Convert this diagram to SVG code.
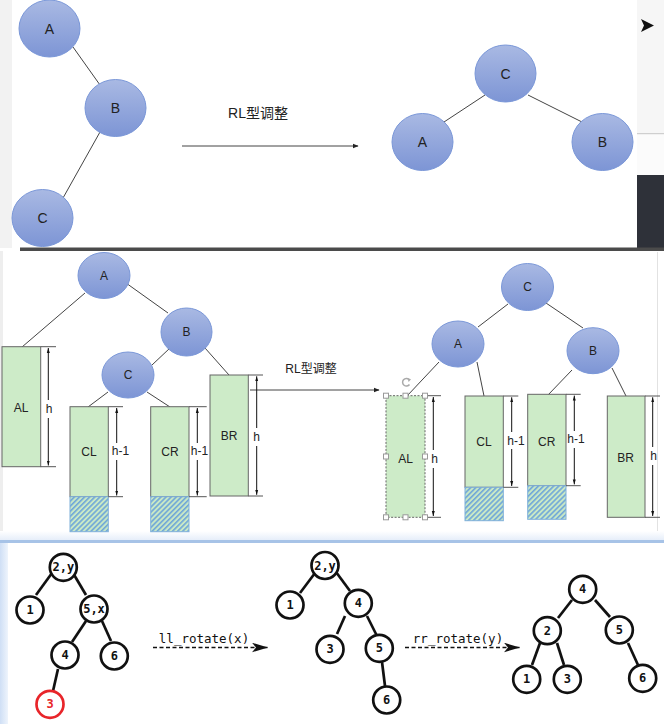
<svg xmlns="http://www.w3.org/2000/svg" width="664" height="724" viewBox="0 0 664 724">
<defs>
<linearGradient id="blue" x1="0" y1="0" x2="0" y2="1">
<stop offset="0" stop-color="#a9b9e3"/>
<stop offset="1" stop-color="#7d95d5"/>
</linearGradient>
<linearGradient id="leftblue" x1="0" y1="0" x2="1" y2="0">
<stop offset="0" stop-color="#cfdff5"/>
<stop offset="1" stop-color="#eef4fc"/>
</linearGradient>
<linearGradient id="shadow" x1="0" y1="0" x2="0" y2="1">
<stop offset="0" stop-color="#ffffff"/>
<stop offset="1" stop-color="#e6eefa"/>
</linearGradient>
<pattern id="hatch" width="3.6" height="3.6" patternUnits="userSpaceOnUse" patternTransform="rotate(45)">
<rect width="3.6" height="3.6" fill="#c9e9c6"/>
<rect width="1.6" height="3.6" fill="#6fa6d8"/>
</pattern>
<marker id="ah" viewBox="0 0 10 10" refX="9" refY="5" markerWidth="6" markerHeight="6" orient="auto-start-reverse">
<path d="M0,1 L10,5 L0,9 z" fill="#222"/>
</marker>
<marker id="dim" viewBox="0 0 10 10" refX="10" refY="5" markerWidth="5" markerHeight="5" orient="auto-start-reverse">
<path d="M0,2 L10,5 L0,8 z" fill="#111"/>
</marker>
<marker id="bigah" viewBox="0 0 20 12" refX="20" refY="6" markerWidth="16" markerHeight="10" markerUnits="userSpaceOnUse" orient="auto">
<path d="M0,0 L20,6 L0,12 L5,6 z" fill="#111"/>
</marker>
<style>
.bn{fill:url(#blue);stroke:#7a97d8;stroke-width:1}
.bt{font-family:"Liberation Sans","Noto Sans CJK SC",sans-serif;fill:#222;text-anchor:middle;dominant-baseline:central}
.t1{font-size:14px}
.t2{font-size:12px}
.edge{stroke:#444;stroke-width:1;fill:none}
.box{fill:#cdebc8;stroke:#666;stroke-width:1}
.hatchbox{fill:url(#hatch);stroke:#7fb0da;stroke-width:1}
.dimline{stroke:#111;stroke-width:1;fill:none}
.tick{stroke:#555;stroke-width:1}
.wn{fill:#fff;stroke:#111;stroke-width:2.7}
.rn{fill:#fff;stroke:#e8252a;stroke-width:2.7}
.we{stroke:#111;stroke-width:2.7;fill:none}
.mt{font-family:"DejaVu Sans Mono","Liberation Mono",monospace;font-weight:bold;font-size:12px;fill:#111;text-anchor:middle;dominant-baseline:central}
.lab{font-family:"DejaVu Sans Mono","Liberation Mono",monospace;font-size:12.5px;fill:#111;text-anchor:middle}
.dash{stroke:#111;stroke-width:1.5;stroke-dasharray:4,2.5;fill:none}
.hdl{fill:#fff;stroke:#999;stroke-width:1}
</style>
</defs>

<!-- backgrounds -->
<rect x="0" y="0" width="664" height="724" fill="#ffffff"/>
<rect x="0" y="0" width="12" height="248" fill="#f2f2f2"/>
<rect x="637" y="0" width="27" height="133" fill="#f6f6f6"/>
<rect x="637" y="133" width="27" height="1.5" fill="#cfcfcf"/>
<rect x="637" y="134.5" width="27" height="41" fill="#fbfbfb"/>
<rect x="637" y="175" width="27" height="76" fill="#2e3139"/>
<polygon points="641,19 654,25.5 641,32 644,25.5" fill="#111"/>
<rect x="20" y="247.5" width="644" height="3.5" fill="#4b4b4b"/>
<rect x="0" y="251" width="3" height="283" fill="#eeeeee"/>
<rect x="657" y="252" width="1" height="282" fill="#e2e2e2"/>
<rect x="0" y="531" width="664" height="9" fill="url(#shadow)"/>
<rect x="0" y="540" width="664" height="3" fill="#a7c3e7"/>
<rect x="0" y="543" width="8" height="181" fill="url(#leftblue)"/>

<!-- connectors -->
<g id="connectors">
<line class="edge" x1="73" y1="47" x2="100" y2="85"/>
<line class="edge" x1="100" y1="132" x2="63" y2="198"/>
<line class="edge" x1="182" y1="146" x2="358" y2="146" marker-end="url(#ah)"/>
<line class="edge" x1="485" y1="95" x2="444" y2="122"/>
<line class="edge" x1="528" y1="95" x2="582" y2="122"/>

<line class="edge" x1="85" y1="293" x2="22" y2="347"/>
<line class="edge" x1="126" y1="283" x2="168" y2="313"/>
<line class="edge" x1="170" y1="348" x2="152" y2="365"/>
<line class="edge" x1="205" y1="348" x2="229" y2="375"/>
<line class="edge" x1="108" y1="392" x2="88" y2="407"/>
<line class="edge" x1="147" y1="392" x2="170" y2="407"/>
<line class="edge" x1="250" y1="390" x2="379" y2="390" marker-end="url(#ah)"/>

<line class="edge" x1="508" y1="304" x2="478" y2="327"/>
<line class="edge" x1="546" y1="303" x2="583" y2="328"/>
<line class="edge" x1="439" y1="362" x2="407" y2="396"/>
<line class="edge" x1="477" y1="362" x2="484" y2="396"/>
<line class="edge" x1="572" y1="370" x2="548" y2="395"/>
<line class="edge" x1="612" y1="368" x2="626" y2="396"/>

<line class="we" x1="52" y1="573" x2="36" y2="595"/>
<line class="we" x1="73" y1="573" x2="86" y2="595"/>
<line class="we" x1="86" y1="621" x2="72" y2="642"/>
<line class="we" x1="102" y1="621" x2="111" y2="641"/>
<line class="we" x1="58" y1="669" x2="53" y2="691"/>
<line class="dash" x1="153" y1="647.5" x2="268" y2="647.5" marker-end="url(#bigah)"/>

<line class="we" x1="315" y1="573" x2="300" y2="593"/>
<line class="we" x1="336" y1="572" x2="350" y2="591"/>
<line class="we" x1="345" y1="616" x2="337" y2="634"/>
<line class="we" x1="367" y1="616" x2="377" y2="636"/>
<line class="we" x1="382" y1="662" x2="385" y2="686"/>
<line class="dash" x1="405" y1="647.5" x2="520" y2="647.5" marker-end="url(#bigah)"/>

<line class="we" x1="572" y1="600" x2="558" y2="618"/>
<line class="we" x1="595" y1="600" x2="610" y2="617"/>
<line class="we" x1="540" y1="643" x2="532" y2="665"/>
<line class="we" x1="557" y1="643" x2="564" y2="665"/>
<line class="we" x1="628" y1="643" x2="638" y2="665"/>
</g>

<!-- labels on arrows -->
<text class="bt t1" x="258" y="113">RL型调整</text>
<text class="bt t2" x="311" y="369">RL型调整</text>
<text class="lab" x="204" y="643">ll_rotate(x)</text>
<text class="lab" x="458" y="643">rr_rotate(y)</text>

<!-- top panel nodes -->
<g id="t-A"><ellipse class="bn" cx="49.5" cy="28.5" rx="30.5" ry="28.5"/><text class="bt t1" x="49.5" y="28.5">A</text></g>
<g id="t-B"><ellipse class="bn" cx="115.5" cy="108" rx="30.5" ry="28.5"/><text class="bt t1" x="115.5" y="108">B</text></g>
<g id="t-C"><ellipse class="bn" cx="42.5" cy="218" rx="30.5" ry="28.5"/><text class="bt t1" x="42.5" y="218">C</text></g>
<g id="t-C2"><ellipse class="bn" cx="505.5" cy="73.5" rx="30.5" ry="28.5"/><text class="bt t1" x="505.5" y="73.5">C</text></g>
<g id="t-A2"><ellipse class="bn" cx="422.5" cy="142" rx="30.5" ry="28.5"/><text class="bt t1" x="422.5" y="142">A</text></g>
<g id="t-B2"><ellipse class="bn" cx="602.5" cy="142" rx="30.5" ry="28.5"/><text class="bt t1" x="602.5" y="142">B</text></g>

<!-- middle panel left -->
<g id="m-A"><ellipse class="bn" cx="104" cy="275.5" rx="26" ry="23"/><text class="bt t2" x="104" y="275.5">A</text></g>
<g id="m-B"><ellipse class="bn" cx="186.5" cy="332" rx="25.5" ry="24"/><text class="bt t2" x="186.5" y="332">B</text></g>
<g id="m-C"><ellipse class="bn" cx="128" cy="375" rx="26" ry="23"/><text class="bt t2" x="128" y="375">C</text></g>

<g id="m-AL">
<rect class="box" x="2" y="346.7" width="38.7" height="120"/>
<text class="bt t2" x="21" y="408">AL</text>
<line class="tick" x1="40.7" y1="346.7" x2="56" y2="346.7"/><line class="tick" x1="40.7" y1="466.7" x2="56" y2="466.7"/>
<line class="dimline" x1="48.3" y1="348" x2="48.3" y2="400" marker-start="url(#dim)"/>
<line class="dimline" x1="48.3" y1="418" x2="48.3" y2="465.5" marker-end="url(#dim)"/>
<text class="bt t2" x="49" y="409">h</text>
</g>
<g id="m-CL">
<rect class="box" x="70" y="406.7" width="38.3" height="90"/>
<rect class="hatchbox" x="70" y="496.7" width="38.3" height="35"/>
<text class="bt t2" x="89" y="452">CL</text>
<line class="tick" x1="108.3" y1="406.7" x2="123" y2="406.7"/><line class="tick" x1="108.3" y1="496.7" x2="123" y2="496.7"/>
<line class="dimline" x1="116.7" y1="408" x2="116.7" y2="443" marker-start="url(#dim)"/>
<line class="dimline" x1="116.7" y1="460" x2="116.7" y2="495.5" marker-end="url(#dim)"/>
<text class="bt t2" x="120.5" y="451">h-1</text>
</g>
<g id="m-CR">
<rect class="box" x="150.7" y="406.7" width="38.3" height="90"/>
<rect class="hatchbox" x="150.7" y="496.7" width="38.3" height="35"/>
<text class="bt t2" x="170" y="452">CR</text>
<line class="tick" x1="189" y1="406.7" x2="206.7" y2="406.7"/><line class="tick" x1="189" y1="496.7" x2="206.7" y2="496.7"/>
<line class="dimline" x1="197.3" y1="408" x2="197.3" y2="443" marker-start="url(#dim)"/>
<line class="dimline" x1="197.3" y1="460" x2="197.3" y2="495.5" marker-end="url(#dim)"/>
<text class="bt t2" x="199.5" y="451">h-1</text>
</g>
<g id="m-BR">
<rect class="box" x="210" y="375" width="38.3" height="121"/>
<text class="bt t2" x="229" y="436">BR</text>
<line class="tick" x1="248.3" y1="375" x2="263" y2="375"/><line class="tick" x1="248.3" y1="496" x2="263" y2="496"/>
<line class="dimline" x1="256.7" y1="376.3" x2="256.7" y2="428" marker-start="url(#dim)"/>
<line class="dimline" x1="256.7" y1="446" x2="256.7" y2="494.8" marker-end="url(#dim)"/>
<text class="bt t2" x="256.7" y="437">h</text>
</g>

<!-- middle panel right -->
<g id="m-C2"><ellipse class="bn" cx="527.5" cy="287" rx="26" ry="23.5"/><text class="bt t2" x="527.5" y="287">C</text></g>
<g id="m-A2"><ellipse class="bn" cx="458" cy="344" rx="26" ry="23"/><text class="bt t2" x="458" y="344">A</text></g>
<g id="m-B2"><ellipse class="bn" cx="593" cy="350.7" rx="26" ry="23"/><text class="bt t2" x="593" y="350.7">B</text></g>

<g id="m-AL2">
<rect class="box" x="386" y="395.7" width="39" height="121.6" stroke-dasharray="2,1.5" stroke="#888"/>
<text class="bt t2" x="405.7" y="459">AL</text>
<line class="tick" x1="425" y1="395.7" x2="441" y2="395.7"/><line class="tick" x1="425" y1="517.3" x2="441" y2="517.3"/>
<line class="dimline" x1="433.3" y1="397" x2="433.3" y2="450" marker-start="url(#dim)"/>
<line class="dimline" x1="433.3" y1="468" x2="433.3" y2="516" marker-end="url(#dim)"/>
<text class="bt t2" x="434.5" y="459">h</text>
<rect class="hdl" x="383.5" y="393.2" width="5" height="5"/>
<rect class="hdl" x="403" y="393.2" width="5" height="5"/>
<rect class="hdl" x="422.5" y="393.2" width="5" height="5"/>
<rect class="hdl" x="383.5" y="454" width="5" height="5"/>
<rect class="hdl" x="422.5" y="454" width="5" height="5"/>
<rect class="hdl" x="383.5" y="514.8" width="5" height="5"/>
<rect class="hdl" x="403" y="514.8" width="5" height="5"/>
<rect class="hdl" x="422.5" y="514.8" width="5" height="5"/>
<path d="M409,379.5 A3.8,3.8 0 1 0 409.5,384.5" fill="none" stroke="#aaa" stroke-width="1.5"/>
<path d="M407.5,378 L411,379.3 L408.6,382 z" fill="#aaa"/>
</g>
<g id="m-CL2">
<rect class="box" x="465" y="396" width="38.3" height="91.3"/>
<rect class="hatchbox" x="465" y="487.3" width="38.3" height="33.4"/>
<text class="bt t2" x="484" y="442">CL</text>
<line class="tick" x1="503.3" y1="396" x2="518.3" y2="396"/><line class="tick" x1="503.3" y1="487.3" x2="518.3" y2="487.3"/>
<line class="dimline" x1="511.7" y1="397.3" x2="511.7" y2="432" marker-start="url(#dim)"/>
<line class="dimline" x1="511.7" y1="449" x2="511.7" y2="486" marker-end="url(#dim)"/>
<text class="bt t2" x="516" y="440.5">h-1</text>
</g>
<g id="m-CR2">
<rect class="box" x="527.7" y="394.3" width="38.3" height="91.4"/>
<rect class="hatchbox" x="527.7" y="485.7" width="38.3" height="33.6"/>
<text class="bt t2" x="546.7" y="441.7">CR</text>
<line class="tick" x1="566" y1="394.3" x2="580.7" y2="394.3"/><line class="tick" x1="566" y1="485.7" x2="580.7" y2="485.7"/>
<line class="dimline" x1="574.3" y1="395.6" x2="574.3" y2="431" marker-start="url(#dim)"/>
<line class="dimline" x1="574.3" y1="448" x2="574.3" y2="484.4" marker-end="url(#dim)"/>
<text class="bt t2" x="576" y="439">h-1</text>
</g>
<g id="m-BR2">
<rect class="box" x="607.3" y="396" width="37.7" height="121.3"/>
<text class="bt t2" x="625.7" y="458">BR</text>
<line class="tick" x1="645" y1="396" x2="660" y2="396"/><line class="tick" x1="645" y1="517.3" x2="660" y2="517.3"/>
<line class="dimline" x1="652.7" y1="397.3" x2="652.7" y2="447" marker-start="url(#dim)"/>
<line class="dimline" x1="652.7" y1="465" x2="652.7" y2="516" marker-end="url(#dim)"/>
<text class="bt t2" x="653.5" y="456">h</text>
</g>

<!-- bottom panel trees -->
<g id="b1-2y"><circle class="wn" cx="63.3" cy="567.3" r="13.5"/><text class="mt" x="63.3" y="567.3">2,y</text></g>
<g id="b1-1"><circle class="wn" cx="30" cy="610" r="13.5"/><text class="mt" x="30" y="610">1</text></g>
<g id="b1-5x"><circle class="wn" cx="94" cy="609" r="13.5"/><text class="mt" x="94" y="609">5,x</text></g>
<g id="b1-4"><circle class="wn" cx="65" cy="655" r="13.5"/><text class="mt" x="65" y="655">4</text></g>
<g id="b1-6"><circle class="wn" cx="114.3" cy="656" r="13.5"/><text class="mt" x="114.3" y="656">6</text></g>
<g id="b1-3"><circle class="rn" cx="50" cy="704.3" r="13.5"/><text class="mt" x="50" y="704.3" style="fill:#e8252a">3</text></g>

<g id="b2-2y"><circle class="wn" cx="325" cy="565.5" r="13.5"/><text class="mt" x="325" y="565.5">2,y</text></g>
<g id="b2-1"><circle class="wn" cx="290" cy="605" r="13.5"/><text class="mt" x="290" y="605">1</text></g>
<g id="b2-4"><circle class="wn" cx="358.3" cy="603.3" r="13.5"/><text class="mt" x="358.3" y="603.3">4</text></g>
<g id="b2-3"><circle class="wn" cx="330" cy="649.3" r="13.5"/><text class="mt" x="330" y="649.3">3</text></g>
<g id="b2-5"><circle class="wn" cx="379.3" cy="648.3" r="13.5"/><text class="mt" x="379.3" y="648.3">5</text></g>
<g id="b2-6"><circle class="wn" cx="386.7" cy="700" r="13.5"/><text class="mt" x="386.7" y="700">6</text></g>

<g id="b3-4"><circle class="wn" cx="582.7" cy="589.3" r="13.5"/><text class="mt" x="582.7" y="589.3">4</text></g>
<g id="b3-2"><circle class="wn" cx="547.3" cy="630.7" r="13.5"/><text class="mt" x="547.3" y="630.7">2</text></g>
<g id="b3-5"><circle class="wn" cx="619.3" cy="630" r="13.5"/><text class="mt" x="619.3" y="630">5</text></g>
<g id="b3-1"><circle class="wn" cx="526.7" cy="679.3" r="13.5"/><text class="mt" x="526.7" y="679.3">1</text></g>
<g id="b3-3"><circle class="wn" cx="567.3" cy="679.3" r="13.5"/><text class="mt" x="567.3" y="679.3">3</text></g>
<g id="b3-6"><circle class="wn" cx="642.7" cy="678.3" r="13.5"/><text class="mt" x="642.7" y="678.3">6</text></g>
</svg>
